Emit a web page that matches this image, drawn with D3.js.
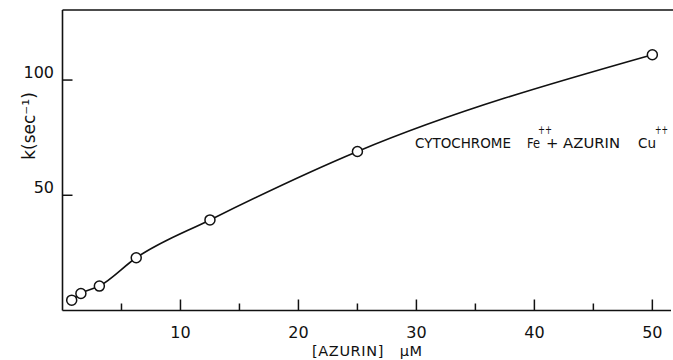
<!DOCTYPE html>
<html lang="en">
<head>
<meta charset="utf-8">
<script src="https://d3js.org/d3.v7.min.js"></script>
<style>
  body { margin: 0; background: white; }
  text { font-family: "DejaVu Sans", sans-serif; fill: #111; white-space: pre; }
</style>
</head>
<body>
<div id="chart"></div>
<script>
// azurin concentration (uM) and rate constant k (sec^-1)
const azurin = [0.78, 1.56, 3.125, 6.25, 12.5, 25, 50];
const kRate = [4.5, 7.4, 10.6, 22.9, 39.3, 69, 111];
const xMajorTicks = [10, 20, 30, 40, 50];
const xMinorTicks = [5, 15, 25, 35, 45];
const yTicks = [50, 100];

const W = 673, H = 360;
const svg = d3.select("#chart").append("svg")
    .attr("width", W).attr("height", H);

const x = d3.scaleLinear().domain([0, 51.75]).range([62.5, 673]);
const y = d3.scaleLinear().domain([0, 130.4]).range([310.5, 10]);

const ink = "#111";

// frame: left axis, top line, bottom axis
svg.append("line").attr("x1", x(0)).attr("x2", x(0)).attr("y1", y(130.4)).attr("y2", y(0))
    .attr("stroke", ink).attr("stroke-width", 1.6);
svg.append("line").attr("x1", x(0)).attr("x2", W).attr("y1", y(130.4)).attr("y2", y(130.4))
    .attr("stroke", ink).attr("stroke-width", 1.6);
svg.append("line").attr("x1", x(0)).attr("x2", 671).attr("y1", y(0)).attr("y2", y(0))
    .attr("stroke", ink).attr("stroke-width", 1.6);

// inward ticks on x
svg.selectAll(".xmaj").data(xMajorTicks).join("line")
    .attr("x1", d => x(d)).attr("x2", d => x(d))
    .attr("y1", y(0)).attr("y2", y(0) - 11)
    .attr("stroke", ink).attr("stroke-width", 1.5);
svg.selectAll(".xmin").data(xMinorTicks).join("line")
    .attr("x1", d => x(d)).attr("x2", d => x(d))
    .attr("y1", y(0)).attr("y2", y(0) - 7)
    .attr("stroke", ink).attr("stroke-width", 1.5);
svg.selectAll(".xlab").data(xMajorTicks).join("text")
    .attr("x", d => x(d)).attr("y", 338)
    .attr("text-anchor", "middle")
    .style("font-size", "16px")
    .text(d => d);

// inward ticks on y
svg.selectAll(".ytk").data(yTicks).join("line")
    .attr("x1", x(0)).attr("x2", x(0) + 10)
    .attr("y1", d => y(d)).attr("y2", d => y(d))
    .attr("stroke", ink).attr("stroke-width", 1.5);
svg.selectAll(".ylab").data(yTicks).join("text")
    .attr("x", 54).attr("y", d => y(d) - 2)
    .attr("text-anchor", "end")
    .style("font-size", "16px")
    .text(d => d);

// axis titles
svg.append("text")
    .attr("transform", "translate(35,126) rotate(-90)")
    .attr("text-anchor", "middle")
    .style("font-size", "17px")
    .text("k(sec\u207B\u00B9)");

svg.append("text")
    .attr("x", 312).attr("y", 356)
    .style("font-size", "14.5px")
    .attr("textLength", 110)
    .attr("lengthAdjust", "spacing")
    .text("[AZURIN]   \u00B5M");

// annotation, pieces placed like the original lettering
const annPieces = [
    { t: "CYTOCHROME", x: 415, y: 148, len: 96, fs: 14 },
    { t: "Fe", x: 527, y: 148, len: 13, fs: 14 },
    { t: "++", x: 538, y: 134, len: 14, fs: 12 },
    { t: "+ AZURIN", x: 546, y: 148, len: 74, fs: 14 },
    { t: "Cu", x: 638, y: 148, len: 18, fs: 14 },
    { t: "++", x: 655, y: 134, len: 13, fs: 12 }
];
svg.selectAll(".ann").data(annPieces).join("text")
    .attr("x", d => d.x).attr("y", d => d.y)
    .attr("textLength", d => d.len)
    .attr("lengthAdjust", "spacingAndGlyphs")
    .style("font-size", d => d.fs + "px")
    .text(d => d.t);

// smooth curve through the points
const pts = azurin.map((v, i) => [v, kRate[i]]);
const line = d3.line()
    .x(d => x(d[0])).y(d => y(d[1]))
    .curve(d3.curveMonotoneX);
svg.append("path").datum(pts)
    .attr("d", line)
    .attr("fill", "none").attr("stroke", ink).attr("stroke-width", 1.6);

svg.selectAll(".pt").data(pts).join("circle")
    .attr("cx", d => x(d[0])).attr("cy", d => y(d[1]))
    .attr("r", 5)
    .attr("fill", "white").attr("stroke", ink).attr("stroke-width", 1.5);
</script>
</body>
</html>
